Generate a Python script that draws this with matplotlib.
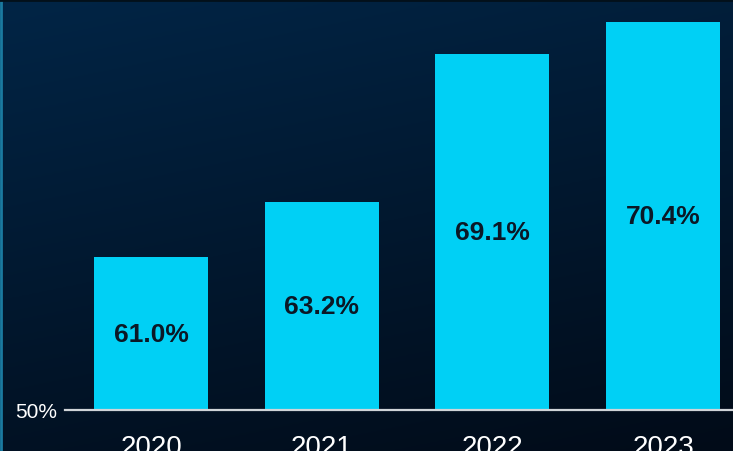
import matplotlib.pyplot as plt
import numpy as np

years = ["2020", "2021", "2022", "2023"]
rates = [61.0, 63.2, 69.1, 70.4]
labels = ["61.0%", "63.2%", "69.1%", "70.4%"]

fig = plt.figure(figsize=(7.33, 4.52), dpi=100)
plt.rcParams['font.family'] = ['Liberation Sans', 'DejaVu Sans']

# fondo degradado
bg = fig.add_axes([0, 0, 1, 1])
yy, xx = np.mgrid[0:1:200j, 0:1:300j]
t = np.clip(0.75 * yy + 0.25 * xx, 0, 1)
top = np.array([0x02, 0x25, 0x46]) / 255
bot = np.array([0x01, 0x0b, 0x18]) / 255
img = top[None, None, :] * (1 - t[..., None]) + bot[None, None, :] * t[..., None]
bg.imshow(img, aspect='auto', extent=[0, 1, 0, 1], origin='upper')
bg.axvline(0.001, color='#1a7aa0', lw=2)
bg.axhline(0.998, color='#03101a', lw=2)
bg.set_xlim(0, 1)
bg.set_ylim(0, 1)
bg.axis('off')

ax = fig.add_axes([65 / 733, 41 / 452, 668 / 733, 411 / 452])
ax.patch.set_alpha(0)
ymin = 54.9
ax.bar(range(len(years)), [r - ymin for r in rates], bottom=ymin,
       width=0.668, color='#00d0f5')
for i, r in enumerate(rates):
    ax.text(i, (ymin + r) / 2, labels[i], ha='center', va='center',
            fontsize=19, fontweight='bold', color='#0b1826')

ax.set_xlim(-0.504, 3.41)
ax.set_ylim(ymin, 71.3)
ax.set_yticks([ymin])
ax.set_yticklabels(["50%"])
ax.set_xticks(range(len(years)))
ax.set_xticklabels(years)
ax.tick_params(axis='y', colors='white', labelsize=15, length=0, pad=6)
ax.tick_params(axis='x', colors='white', labelsize=20, length=0, pad=17)
for s in ['top', 'right', 'left']:
    ax.spines[s].set_visible(False)
ax.spines['bottom'].set_color('#d0d4d8')
ax.spines['bottom'].set_linewidth(1.6)

fig.savefig('out.png', dpi=100)
